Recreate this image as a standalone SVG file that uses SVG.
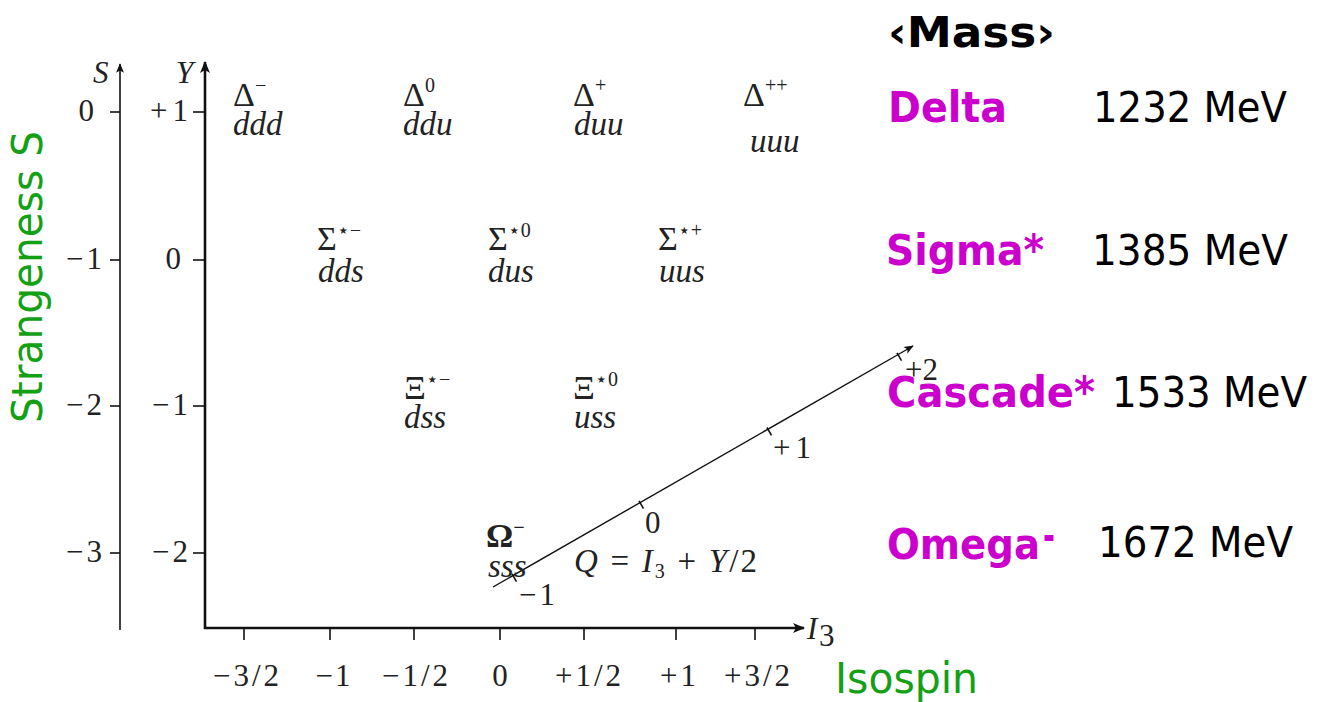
<svg xmlns="http://www.w3.org/2000/svg" width="1322" height="702" viewBox="0 0 1322 702">
<style>
.m{font-family:"Liberation Serif","DejaVu Serif",serif;font-size:31px;fill:#222}
.it{font-style:italic}
.q{font-family:"Liberation Serif","DejaVu Serif",serif;font-size:33px;font-style:italic;fill:#222}
.sym{font-family:"Liberation Serif","DejaVu Serif",serif;font-size:34px;fill:#222}
.sup{font-size:20px}
.ax{stroke:#111;fill:none}
.tk{stroke:#111;stroke-width:1.6}
.cs{font-family:"DejaVu Sans","Noto Sans",sans-serif;font-size:42px}
.name{font-weight:bold;fill:#CC00CC}
.val{fill:#000}
.gr{fill:#14A014}
</style>
<defs>
<marker id="arr" viewBox="0 0 12 10" refX="11" refY="5" markerWidth="12" markerHeight="10" orient="auto" markerUnits="userSpaceOnUse"><path d="M0,0 L12,5 L0,10 L3,5 Z" fill="#111"/></marker>
<marker id="arrs" viewBox="0 0 12 10" refX="11" refY="5" markerWidth="10" markerHeight="8" orient="auto" markerUnits="userSpaceOnUse"><path d="M0,0 L12,5 L0,10 L3,5 Z" fill="#111"/></marker>
</defs>
<rect width="1322" height="702" fill="#fff"/>

<g id="axes">
<line class="ax" x1="120" y1="630" x2="120" y2="64" stroke-width="1.6" marker-end="url(#arrs)"/>
<path class="ax" d="M205,64 L205,628 L800,628" stroke-width="2.6"/>
<line class="ax" x1="205" y1="70" x2="205" y2="62" stroke-width="2.6" marker-end="url(#arr)"/>
<line class="ax" x1="795" y1="628" x2="804" y2="628" stroke-width="2.6" marker-end="url(#arr)"/>
<g id="s-ticks">
<line class="tk" x1="110" y1="112" x2="120" y2="112"/>
<line class="tk" x1="110" y1="260" x2="120" y2="260"/>
<line class="tk" x1="110" y1="406" x2="120" y2="406"/>
<line class="tk" x1="110" y1="553" x2="120" y2="553"/>
</g>
<g id="y-ticks">
<line class="tk" x1="193" y1="112" x2="205" y2="112"/>
<line class="tk" x1="193" y1="260" x2="205" y2="260"/>
<line class="tk" x1="193" y1="406" x2="205" y2="406"/>
<line class="tk" x1="193" y1="553" x2="205" y2="553"/>
</g>
<g id="i3-ticks">
<line class="tk" x1="244" y1="628" x2="244" y2="640"/>
<line class="tk" x1="330" y1="628" x2="330" y2="640"/>
<line class="tk" x1="414" y1="628" x2="414" y2="640"/>
<line class="tk" x1="500" y1="628" x2="500" y2="640"/>
<line class="tk" x1="584" y1="628" x2="584" y2="640"/>
<line class="tk" x1="676" y1="628" x2="676" y2="640"/>
<line class="tk" x1="755" y1="628" x2="755" y2="640" stroke-width="2.4"/>
</g>
<text class="m it" x="93" y="83" font-size="32">S</text>
<text class="m it" x="176" y="83" font-size="32">Y</text>
<text class="m it" x="807" y="639" font-size="27">I</text>
<text class="m" x="819" y="646" font-size="18">3</text>
<g id="s-labels" text-anchor="end">
<text class="m" x="94" y="121">0</text>
<text class="m" x="102" y="269" textLength="36" lengthAdjust="spacing">−1</text>
<text class="m" x="102" y="415" textLength="36" lengthAdjust="spacing">−2</text>
<text class="m" x="102" y="562" textLength="36" lengthAdjust="spacing">−3</text>
</g>
<g id="y-labels" text-anchor="end">
<text class="m" x="188" y="121" textLength="38" lengthAdjust="spacing">+1</text>
<text class="m" x="181" y="269">0</text>
<text class="m" x="188" y="415" textLength="36" lengthAdjust="spacing">−1</text>
<text class="m" x="188" y="562" textLength="36" lengthAdjust="spacing">−2</text>
</g>
<g id="i3-labels" text-anchor="middle">
<text class="m" x="246" y="686" textLength="66" lengthAdjust="spacing">−3/2</text>
<text class="m" x="333" y="686" textLength="35" lengthAdjust="spacing">−1</text>
<text class="m" x="415" y="686" textLength="66" lengthAdjust="spacing">−1/2</text>
<text class="m" x="500" y="686">0</text>
<text class="m" x="588" y="686" textLength="66" lengthAdjust="spacing">+1/2</text>
<text class="m" x="678" y="686" textLength="36" lengthAdjust="spacing">+1</text>
<text class="m" x="757" y="686" textLength="66" lengthAdjust="spacing">+3/2</text>
</g>
</g>

<g id="connectors">
<g id="charge-axis">
<line x1="493" y1="587" x2="913" y2="346" stroke="#111" stroke-width="1.4" marker-end="url(#arrs)"/>
<line class="tk" x1="512" y1="573.8" x2="516.5" y2="581.6" stroke-width="1.3"/>
<line class="tk" x1="639" y1="500.9" x2="643.5" y2="508.7" stroke-width="1.3"/>
<line class="tk" x1="767" y1="427.5" x2="771.5" y2="435.3" stroke-width="1.3"/>
<line class="tk" x1="897" y1="352.8" x2="901.5" y2="360.6" stroke-width="1.3"/>
<text class="m" x="519" y="605" textLength="36" lengthAdjust="spacing">−1</text>
<text class="m" x="645" y="533">0</text>
<text class="m" x="773" y="458" textLength="38" lengthAdjust="spacing">+1</text>
<text class="m" x="905" y="380" fill="#666">+2</text>
</g>
</g>

<g id="delta-minus"><text class="sym" x="233" y="106">Δ<tspan class="sup" dy="-14">−</tspan></text><text class="q" x="233" y="135">ddd</text></g>
<g id="delta-zero"><text class="sym" x="403" y="106">Δ<tspan class="sup" dy="-14">0</tspan></text><text class="q" x="403" y="135">ddu</text></g>
<g id="delta-plus"><text class="sym" x="573" y="106">Δ<tspan class="sup" dy="-14">+</tspan></text><text class="q" x="574" y="135">duu</text></g>
<g id="delta-plusplus"><text class="sym" x="743" y="106">Δ<tspan class="sup" dy="-14">++</tspan></text><text class="q" x="750" y="152" fill="#000" font-size="31">uuu</text></g>

<g id="sigma-minus"><text class="sym" x="317" y="250">Σ<tspan class="sup" dy="-13">⋆−</tspan></text><text class="q" x="318" y="282">dds</text></g>
<g id="sigma-zero"><text class="sym" x="488" y="250">Σ<tspan class="sup" dy="-13">⋆0</tspan></text><text class="q" x="488" y="282">dus</text></g>
<g id="sigma-plus"><text class="sym" x="658" y="250">Σ<tspan class="sup" dy="-13">⋆+</tspan></text><text class="q" x="659" y="282">uus</text></g>

<g id="xi-minus"><text class="sym" x="404" y="399">Ξ<tspan class="sup" dy="-13">⋆−</tspan></text><text class="q" x="404" y="428">dss</text></g>
<g id="xi-zero"><text class="sym" x="573" y="399">Ξ<tspan class="sup" dy="-13">⋆0</tspan></text><text class="q" x="574" y="428">uss</text></g>

<g id="omega-minus"><text class="sym" x="486" y="547" font-weight="bold">Ω<tspan class="sup" dy="-13">−</tspan></text><text class="q" x="488" y="577">sss</text></g>

<g id="charge-formula"><text class="q" x="574" y="572" textLength="183" lengthAdjust="spacing">Q <tspan font-style="normal">=</tspan> I<tspan font-size="20" font-style="normal" dy="6">3</tspan><tspan dy="-6"> </tspan><tspan font-style="normal">+</tspan> Y<tspan font-style="normal">/2</tspan></text></g>

<g id="mass-table">
<text class="cs" x="888" y="47" font-weight="bold" textLength="167" lengthAdjust="spacingAndGlyphs">‹Mass›</text>
<g id="mass-delta"><text class="cs name" x="888" y="122" textLength="119" lengthAdjust="spacingAndGlyphs">Delta</text><text class="cs val" x="1093" y="122" textLength="194" lengthAdjust="spacingAndGlyphs">1232 MeV</text></g>
<g id="mass-sigma"><text class="cs name" x="886" y="265" textLength="158" lengthAdjust="spacingAndGlyphs">Sigma*</text><text class="cs val" x="1092" y="265" textLength="196" lengthAdjust="spacingAndGlyphs">1385 MeV</text></g>
<g id="mass-cascade"><text class="cs name" x="887" y="407" textLength="208" lengthAdjust="spacingAndGlyphs">Cascade*</text><text class="cs val" x="1112" y="407" textLength="195" lengthAdjust="spacingAndGlyphs">1533 MeV</text></g>
<g id="mass-omega"><text class="cs name" x="887" y="559" textLength="153" lengthAdjust="spacingAndGlyphs">Omega</text><text class="cs name" x="1043" y="550" font-size="22" textLength="12" lengthAdjust="spacingAndGlyphs">-</text><text class="cs val" x="1098" y="557" textLength="195" lengthAdjust="spacingAndGlyphs">1672 MeV</text></g>
</g>

<text class="cs gr" x="835" y="693" textLength="143" lengthAdjust="spacingAndGlyphs">Isospin</text>
<text class="cs gr" transform="translate(42,423) rotate(-90)" textLength="292" lengthAdjust="spacingAndGlyphs">Strangeness S</text>
</svg>
